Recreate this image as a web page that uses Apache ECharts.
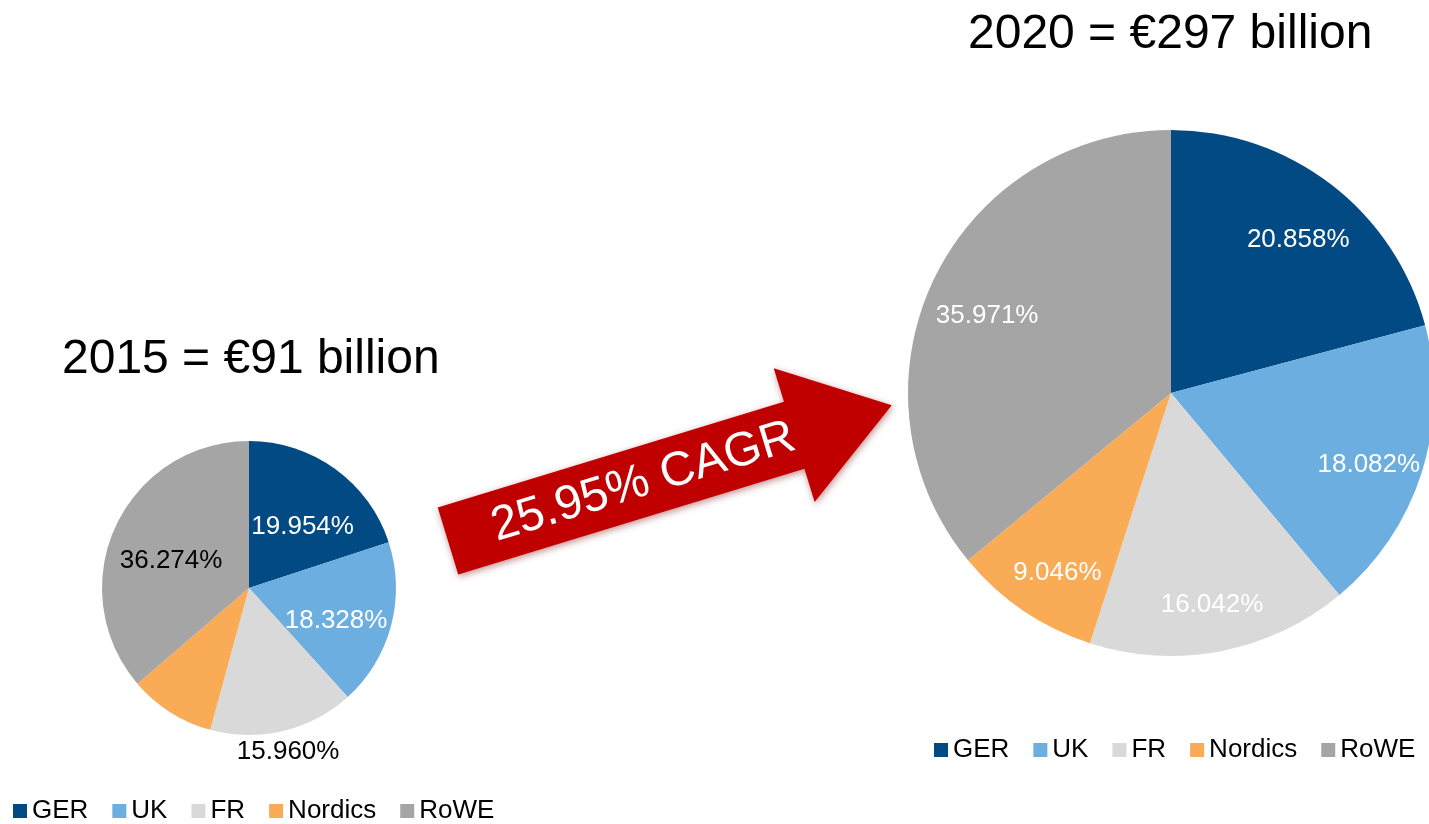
<!DOCTYPE html>
<html>
<head>
<meta charset="utf-8">
<script src="https://cdn.jsdelivr.net/npm/echarts@6/dist/echarts.min.js"></script>
<style>
html,body{margin:0;padding:0;background:#fff;}
#main{width:1429px;height:824px;}
</style>
</head>
<body>
<div id="main"></div>
<script>
const categories = ['GER', 'UK', 'FR', 'Nordics', 'RoWE'];
const colors = ['#024A84', '#6CAEE0', '#D9D9D9', '#F9AB55', '#A5A5A5'];
const values2015 = [19.954, 18.328, 15.960, 9.484, 36.274];
const values2020 = [20.858, 18.082, 16.042, 9.046, 35.971];
const title2015 = '2015 = €91 billion';
const title2020 = '2020 = €297 billion';
const cagrText = '25.95% CAGR';

const FONT = '"Liberation Sans", Arial, sans-serif';
const fmt = p => p.value.toFixed(3) + '%';

// label visibility/colour per slice
const labels2015Inner = [
  { show: true, color: '#fff' }, { show: true, color: '#fff' }, { show: false },
  { show: false }, { show: true, color: '#000' }
];
const labels2015Outer = [false, false, true, false, false];
const labels2020Inner = [
  { show: true, color: '#fff' }, { show: true, color: '#fff' }, { show: true, color: '#fff' },
  { show: true, color: '#fff' }, { show: true, color: '#fff' }
];

const C1 = [249, 588], R1 = 147;
const C2 = [1171, 393], R2 = 263;

function pieData(vals) {
  return categories.map((n, i) => ({ name: n, value: vals[i], itemStyle: { color: colors[i] } }));
}
function labelData(vals, lbls) {
  return categories.map((n, i) => ({
    name: n, value: vals[i],
    label: Object.assign({}, lbls[i])
  }));
}
const baseLabel = { position: 'inside', formatter: fmt, fontSize: 26, fontFamily: FONT };
const shiftedLabel = Object.assign({}, baseLabel, { offset: [2, 10] });

const chart = echarts.init(document.getElementById('main'));
chart.setOption({
  backgroundColor: '#fff',
  animation: false,
  title: [
    { text: title2015, left: 62, top: 336, padding: 0, textStyle: { fontSize: 48, fontWeight: 'normal', color: '#000', fontFamily: FONT } },
    { text: title2020, left: 968, top: 11, padding: 0, textStyle: { fontSize: 48, fontWeight: 'normal', color: '#000', fontFamily: FONT } }
  ],
  legend: [
    {
      left: 13, top: 798, padding: 0, itemWidth: 14, itemHeight: 14, itemGap: 24, icon: 'rect',
      selectedMode: false,
      textStyle: { fontSize: 26, color: '#000', fontFamily: FONT },
      data: categories.map((n, i) => ({ name: n, itemStyle: { color: colors[i] } }))
    },
    {
      left: 934, top: 737, padding: 0, itemWidth: 14, itemHeight: 14, itemGap: 24, icon: 'rect',
      selectedMode: false,
      textStyle: { fontSize: 26, color: '#000', fontFamily: FONT },
      data: categories.map((n, i) => ({ name: n, itemStyle: { color: colors[i] } }))
    }
  ],
  series: [
    {
      type: 'pie', center: C1, radius: [0, R1], startAngle: 90, clockwise: true,
      label: { show: false }, labelLine: { show: false }, emphasis: { disabled: true },
      data: pieData(values2015)
    },
    {
      type: 'pie', center: C2, radius: [0, R2], startAngle: 90, clockwise: true,
      label: { show: false }, labelLine: { show: false }, emphasis: { disabled: true },
      data: pieData(values2020)
    },
    {
      type: 'pie', center: C1, radius: [23, R1], silent: true, avoidLabelOverlap: false,
      itemStyle: { color: 'rgba(0,0,0,0)' }, labelLine: { show: false }, emphasis: { disabled: true },
      label: shiftedLabel,
      data: labelData(values2015, labels2015Inner)
    },
    {
      type: 'pie', center: C1, radius: [R1, R1 + 36], silent: true, avoidLabelOverlap: false,
      itemStyle: { color: 'rgba(0,0,0,0)' }, labelLine: { show: false }, emphasis: { disabled: true },
      label: baseLabel,
      data: labelData(values2015, labels2015Outer.map(s => ({ show: s, color: '#000' })))
    },
    {
      type: 'pie', center: C2, radius: [142, R2], silent: true, avoidLabelOverlap: false,
      itemStyle: { color: 'rgba(0,0,0,0)' }, labelLine: { show: false }, emphasis: { disabled: true },
      label: shiftedLabel,
      data: labelData(values2020, labels2020Inner)
    }
  ],
  graphic: [
    {
      type: 'group', x: 448, y: 541, rotation: 17 * Math.PI / 180,
      children: [
        {
          type: 'polygon',
          shape: { points: [[0, -35], [362, -35], [362, -70], [464, 0], [362, 70], [362, 35], [0, 35]] },
          style: { fill: '#C00000', shadowBlur: 7, shadowColor: 'rgba(120,0,0,0.45)', shadowOffsetX: 1, shadowOffsetY: 2 }
        },
        {
          type: 'text', x: 204, y: 1,
          style: { text: cagrText, fill: '#fff', fontSize: 48, fontFamily: FONT, align: 'center', verticalAlign: 'middle' }
        }
      ]
    }
  ]
});
</script>
</body>
</html>
